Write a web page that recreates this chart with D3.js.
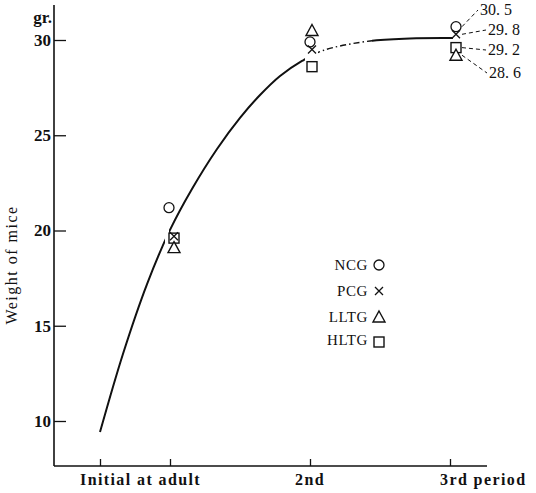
<!DOCTYPE html>
<html><head><meta charset="utf-8">
<script src="https://cdn.jsdelivr.net/npm/d3@7"></script>
<style>
body{margin:0;background:#fff;}
text{font-family:"Liberation Serif","Times New Roman",serif;fill:#111;}
</style></head>
<body><svg id="c" width="536" height="493"></svg>
<script>
// ---- data ----
const periods = [0.5, 1, 2, 3];
const periodLabels = ["Initial", "at adult", "2nd", "3rd period"];
const yTicks = [10, 15, 20, 25, 30];
const groups = ["NCG", "PCG", "LLTG", "HLTG"];
const symbols = ["circle", "cross", "triangle", "square"];
// marker values per group at adult, 2nd, 3rd period
const markerPeriods = [1, 2, 3];
const ncgValues  = [21.2, 29.9, 30.7];
const pcgValues  = [19.7, 29.5, 30.3];
const lltgValues = [19.1, 30.5, 29.2];
const hltgValues = [19.6, 28.6, 29.6];
// annotated values at the 3rd period
const thirdLabels = ["30. 5", "29. 8", "29. 2", "28. 6"];
const thirdLabelOrder = ["NCG", "PCG", "HLTG", "LLTG"];
// fitted growth curve (period, weight)
const curveP = [0.5, 0.664, 0.836, 1.0, 1.157, 1.336, 1.5, 1.643, 1.786, 1.943, 2.093, 2.429, 2.714, 3.021];
const curveV = [9.42, 13.52, 17.19, 20.03, 22.18, 24.28, 25.91, 27.11, 28.11, 28.9, 29.45, 29.95, 30.08, 30.1];

const svg = d3.select("#c");
const x = d3.scaleLinear().domain([0.5, 3]).range([100, 450]);
const y = d3.scaleLinear().domain([10, 30]).range([421, 40]);
const axisX = 54, axisY = 466;

// axes lines
svg.append("line").attr("x1", axisX).attr("x2", axisX).attr("y1", 5).attr("y2", axisY)
  .attr("stroke", "#111").attr("stroke-width", 1.6);
svg.append("line").attr("x1", axisX).attr("x2", 487).attr("y1", axisY).attr("y2", axisY)
  .attr("stroke", "#111").attr("stroke-width", 1.6);

// y axis
const gy = svg.append("g").attr("transform", `translate(${axisX},0)`)
  .call(d3.axisLeft(y).tickValues(yTicks).tickSizeInner(-12).tickSizeOuter(0).tickPadding(3).tickFormat(d3.format("d")));
gy.select(".domain").remove();
gy.selectAll(".tick line").attr("stroke", "#111").attr("stroke-width", 1.3);
gy.selectAll(".tick text").style("font-family", "Liberation Serif").style("font-size", "17px")
  .style("font-weight", "bold").attr("fill", "#111");

svg.append("text").attr("x", 52).attr("y", 23).attr("text-anchor", "end")
  .style("font-size", "17px").style("font-weight", "bold").text("gr.");

svg.append("text").attr("transform", "translate(17,265) rotate(-90)").attr("text-anchor", "middle")
  .style("font-size", "16px").style("letter-spacing", "1.5px").text("Weight of mice");

// x axis ticks
const gx = svg.append("g").attr("transform", `translate(0,${axisY})`)
  .call(d3.axisBottom(x).tickValues(periods).tickSizeInner(-7).tickSizeOuter(0).tickFormat(""));
gx.select(".domain").remove();
gx.selectAll(".tick line").attr("stroke", "#111").attr("stroke-width", 1.3);

function styleX(t) { t.style("font-size", "16px").style("letter-spacing", "1.4px").style("font-weight", "600"); return t; }
styleX(svg.append("text").attr("x", 80).attr("y", 485).text(periodLabels[0] + " " + periodLabels[1]));
styleX(svg.append("text").attr("x", x(2)).attr("y", 485).attr("text-anchor", "middle").text(periodLabels[2]));
styleX(svg.append("text").attr("x", 440).attr("y", 485).text(periodLabels[3]));

// curve with clip segments
const pts = curveP.map((p, i) => [x(p), y(curveV[i])]);
const lineGen = d3.line().curve(d3.curveCatmullRom.alpha(0.5));
const defs = svg.append("defs");
function clip(id, ranges) {
  const c = defs.append("clipPath").attr("id", id);
  ranges.forEach(r => c.append("rect").attr("x", r[0]).attr("y", 0).attr("width", r[1] - r[0]).attr("height", 493));
}
clip("solid", [[90, 165], [169, 305], [372, 460]]);
clip("dash", [[318, 372]]);
svg.append("path").attr("d", lineGen(pts)).attr("fill", "none").attr("stroke", "#111")
  .attr("stroke-width", 2).attr("clip-path", "url(#solid)");
svg.append("path").attr("d", lineGen(pts)).attr("fill", "none").attr("stroke", "#111")
  .attr("stroke-width", 1.4).attr("stroke-dasharray", "6,3,1.5,3").attr("clip-path", "url(#dash)");

// symbols
function drawSymbol(g, type, cx, cy) {
  const s = "#111";
  if (type === "circle") {
    g.append("circle").attr("cx", cx).attr("cy", cy).attr("r", 5).attr("fill", "#fff").attr("stroke", s).attr("stroke-width", 1.3);
  } else if (type === "cross") {
    g.append("path").attr("d", `M${cx-4},${cy-4}L${cx+4},${cy+4}M${cx-4},${cy+4}L${cx+4},${cy-4}`)
      .attr("stroke", s).attr("stroke-width", 1.3).attr("fill", "none");
  } else if (type === "triangle") {
    g.append("path").attr("d", `M${cx},${cy-6}L${cx+6},${cy+5}L${cx-6},${cy+5}Z`)
      .attr("fill", "#fff").attr("stroke", s).attr("stroke-width", 1.4);
  } else {
    g.append("rect").attr("x", cx - 5).attr("y", cy - 5).attr("width", 10).attr("height", 10)
      .attr("fill", "#fff").attr("stroke", s).attr("stroke-width", 1.4);
  }
}
const seriesVals = {NCG: ncgValues, PCG: pcgValues, LLTG: lltgValues, HLTG: hltgValues};
const xOffsets = [[-1, 4], [0, 2], [6, 6]]; // small horizontal offsets per period as in the picture
const gm = svg.append("g");
["HLTG", "LLTG", "NCG", "PCG"].forEach(gname => {
  const idx = groups.indexOf(gname);
  seriesVals[gname].forEach((v, i) => {
    const off = (gname === "NCG") ? xOffsets[i][0] : xOffsets[i][1];
    drawSymbol(gm, symbols[idx], x(markerPeriods[i]) + off, y(v));
  });
});

// leader labels at 3rd period
const labelPos = [[480, 15], [488, 35], [488, 55], [489, 78]];
thirdLabelOrder.forEach((gname, i) => {
  const v = seriesVals[gname][2];
  const mx = x(3) + 12, my = y(v);
  svg.append("line").attr("x1", mx).attr("y1", my).attr("x2", labelPos[i][0] - 2).attr("y2", labelPos[i][1] - 5)
    .attr("stroke", "#111").attr("stroke-width", 1).attr("stroke-dasharray", "4,3");
  svg.append("text").attr("x", labelPos[i][0]).attr("y", labelPos[i][1]).style("font-size", "16px").text(thirdLabels[i]);
});

// legend
const legY = [265, 291, 317, 340];
groups.forEach((gname, i) => {
  svg.append("text").attr("x", 368).attr("y", legY[i] + 5).attr("text-anchor", "end")
    .style("font-size", "15px").style("letter-spacing", "0.6px").text(gname);
  drawSymbol(svg, symbols[i], 379, legY[i] + (i === 3 ? 2 : 0));
});
</script></body></html>
